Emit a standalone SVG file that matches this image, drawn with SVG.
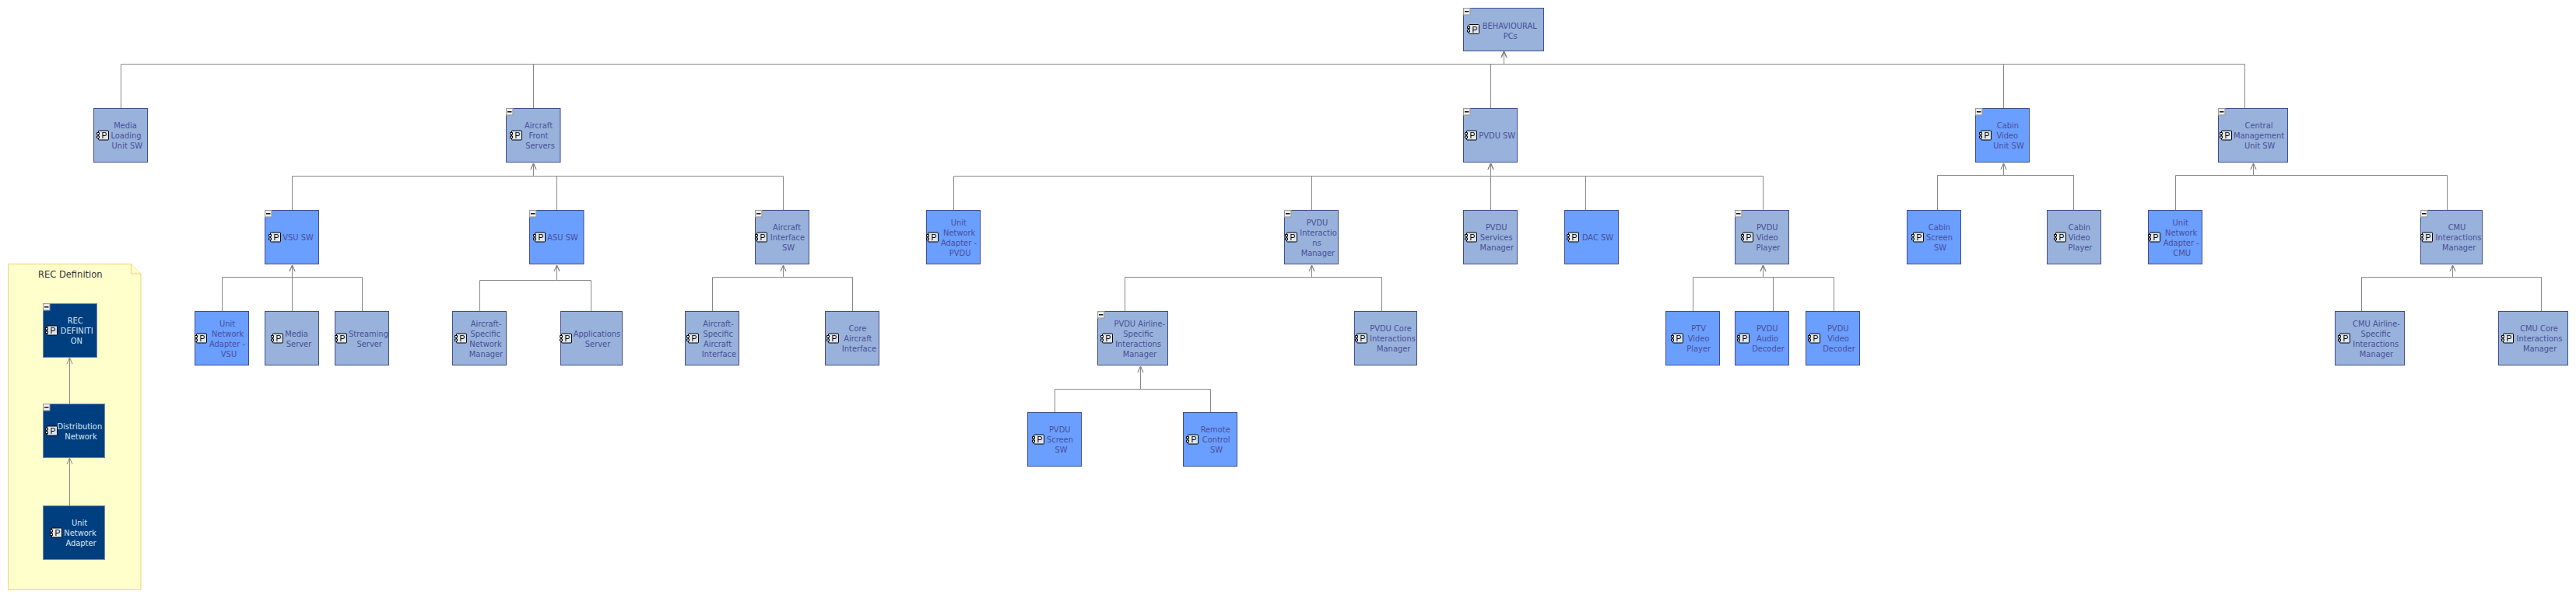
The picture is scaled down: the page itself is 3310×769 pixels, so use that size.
<svg xmlns="http://www.w3.org/2000/svg" width="3310" height="769" viewBox="0 0 3310 769">
<style>
text{font-family:"DejaVu Sans Condensed","DejaVu Sans",sans-serif;font-stretch:condensed;font-size:11px;text-anchor:middle;fill:#4a4f98}
.l rect.b{fill:#98b2db;stroke:#434c8c}
.h rect.b{fill:#6a9eff;stroke:#434c8c}
.d rect.b{fill:#003f7f;stroke:#6f86ad}
.d text{fill:#d8e4f2}
text.p{font-family:"Liberation Sans",Arial,sans-serif;font-size:10.5px;fill:#000}
.c{fill:none;stroke:#888;stroke-width:1;marker-end:url(#a)}
.note{fill:#ffc;stroke:#f0d080}
</style>
<defs>
<marker id="a" markerUnits="userSpaceOnUse" markerWidth="12" markerHeight="12" refX="11" refY="6" orient="auto" viewBox="0 0 12 12"><path d="M3 2.500L11 6L3 9.500" fill="none" stroke="#888"/></marker>
<g id="i"><rect x="-6.500" y="-6" width="13" height="12" rx="1" fill="#dfe6ee" stroke="#000"/><path d="M-8.500-3.500h3v2.500h-3zM-8.500 1h3v2.500h-3z" fill="#fff" stroke="#000"/></g>
<g id="m"><rect width="8.500" height="8.500" fill="#d8d8d8" stroke="#9a9a9a"/><rect x="1" y="1" width="6.500" height="6.500" fill="#f4f4f4"/><path d="M1.500 4.300h5.500" stroke="#000" stroke-width="1.400"/></g>
</defs>
<rect width="3310" height="769" fill="#fff"/>
<g id="rec-note"><path class="note" d="M10.500 339.500H168.500L181 352V758.500H10.500Z"/><path class="note" d="M168.500 339.500V352H181"/><text x="90.300" y="357" style="fill:#333;font-size:12.800px">REC Definition</text></g>
<g id="connectors">
<path class="c" d="M155.500 139V82.500H1932.500V66"/>
<path class="c" d="M685.500 139V82.500H1932.500V66"/>
<path class="c" d="M1915.500 139V82.500H1932.500V66"/>
<path class="c" d="M2574.500 139V82.500H1932.500V66"/>
<path class="c" d="M2884.500 139V82.500H1932.500V66"/>
<path class="c" d="M375.500 270V226.500H685.500V210"/>
<path class="c" d="M715.500 270V226.500H685.500V210"/>
<path class="c" d="M1006.500 270V226.500H685.500V210"/>
<path class="c" d="M1225.500 270V226.500H1915.500V210"/>
<path class="c" d="M1685.500 270V226.500H1915.500V210"/>
<path class="c" d="M1915.500 270V210"/>
<path class="c" d="M2037.500 270V226.500H1915.500V210"/>
<path class="c" d="M2265.500 270V226.500H1915.500V210"/>
<path class="c" d="M2489.500 270V225.500H2574.500V210"/>
<path class="c" d="M2664.500 270V225.500H2574.500V210"/>
<path class="c" d="M2795.500 270V225.500H2895.500V210"/>
<path class="c" d="M3144.500 270V225.500H2895.500V210"/>
<path class="c" d="M285.500 400V356.500H375.500V341"/>
<path class="c" d="M375.500 400V341"/>
<path class="c" d="M465.500 400V356.500H375.500V341"/>
<path class="c" d="M616.500 400V360.500H715.500V341"/>
<path class="c" d="M759.500 400V360.500H715.500V341"/>
<path class="c" d="M915.500 400V356.500H1006.500V341"/>
<path class="c" d="M1095.500 400V356.500H1006.500V341"/>
<path class="c" d="M1445.500 400V356.500H1685.500V341"/>
<path class="c" d="M1775.500 400V356.500H1685.500V341"/>
<path class="c" d="M2175.500 400V356.500H2265.500V341"/>
<path class="c" d="M2278.500 400V356.500H2265.500V341"/>
<path class="c" d="M2356.500 400V356.500H2265.500V341"/>
<path class="c" d="M3034.500 400V356.500H3151.500V341"/>
<path class="c" d="M3265.500 400V356.500H3151.500V341"/>
<path class="c" d="M1355.500 530V500.500H1465.500V471"/>
<path class="c" d="M1555.500 530V500.500H1465.500V471"/>
<path class="c" d="M89.500 519V460"/>
<path class="c" d="M89.500 650V589"/>
</g>
<g id="behavioural" class="l"><rect class="b" x="1880.500" y="10.500" width="103" height="55"/><use href="#m" x="1880.500" y="10.500"/><use href="#i" x="1894" y="37.500"/><text class="p" x="1895" y="41.500">P</text><text x="1939.800" y="36.500">BEHAVIOURAL<tspan x="1940.700" dy="13">PCs</tspan></text></g>
<g id="media-loading" class="l"><rect class="b" x="120.500" y="139.500" width="69" height="69"/><use href="#i" x="133" y="174"/><text class="p" x="134" y="178">P</text><text x="161" y="165">Media<tspan x="162" dy="13">Loading</tspan><tspan x="163.300" dy="13">Unit SW</tspan></text></g>
<g id="aircraft-front" class="l"><rect class="b" x="650.500" y="139.500" width="69.500" height="69"/><use href="#m" x="650.500" y="139.500"/><use href="#i" x="664" y="174"/><text class="p" x="665" y="178">P</text><text x="692" y="165">Aircraft<tspan x="692" dy="13">Front</tspan><tspan x="694" dy="13">Servers</tspan></text></g>
<g id="pvdu-sw" class="l"><rect class="b" x="1880.500" y="139.500" width="69" height="69"/><use href="#m" x="1880.500" y="139.500"/><use href="#i" x="1891" y="174"/><text class="p" x="1892" y="178">P</text><text x="1923.700" y="178">PVDU SW</text></g>
<g id="cabin-video-unit" class="h"><rect class="b" x="2538.500" y="139.500" width="69" height="69"/><use href="#m" x="2538.500" y="139.500"/><use href="#i" x="2552" y="174"/><text class="p" x="2553" y="178">P</text><text x="2580" y="165">Cabin<tspan x="2579.300" dy="13">Video</tspan><tspan x="2581" dy="13">Unit SW</tspan></text></g>
<g id="central-mgmt" class="l"><rect class="b" x="2850.500" y="139.500" width="89" height="69"/><use href="#m" x="2850.500" y="139.500"/><use href="#i" x="2861" y="174"/><text class="p" x="2862" y="178">P</text><text x="2902.500" y="165">Central<tspan x="2902.500" dy="13">Management</tspan><tspan x="2903.600" dy="13">Unit SW</tspan></text></g>
<g id="vsu-sw" class="h"><rect class="b" x="340.500" y="270.500" width="69" height="69"/><use href="#m" x="340.500" y="270.500"/><use href="#i" x="354" y="305"/><text class="p" x="355" y="309">P</text><text x="383" y="309">VSU SW</text></g>
<g id="asu-sw" class="h"><rect class="b" x="680.500" y="270.500" width="69.500" height="69"/><use href="#m" x="680.500" y="270.500"/><use href="#i" x="694" y="305"/><text class="p" x="695" y="309">P</text><text x="723" y="309">ASU SW</text></g>
<g id="aircraft-interface" class="l"><rect class="b" x="970.500" y="270.500" width="69" height="69"/><use href="#m" x="970.500" y="270.500"/><use href="#i" x="979" y="305"/><text class="p" x="980" y="309">P</text><text x="1011" y="296">Aircraft<tspan x="1012" dy="13">Interface</tspan><tspan x="1013" dy="13">SW</tspan></text></g>
<g id="una-pvdu" class="h"><rect class="b" x="1190.500" y="270.500" width="69" height="69"/><use href="#i" x="1199" y="305"/><text class="p" x="1200" y="309">P</text><text x="1231.800" y="290">Unit<tspan x="1232.700" dy="13">Network</tspan><tspan x="1232" dy="13">Adapter -</tspan><tspan x="1233.600" dy="13">PVDU</tspan></text></g>
<g id="pvdu-interactions" class="l"><rect class="b" x="1650.500" y="270.500" width="69" height="69"/><use href="#m" x="1650.500" y="270.500"/><use href="#i" x="1660" y="305"/><text class="p" x="1661" y="309">P</text><text x="1692.500" y="290">PVDU<tspan x="1694" dy="13">Interactio</tspan><tspan x="1692" dy="13">ns</tspan><tspan x="1693.400" dy="13">Manager</tspan></text></g>
<g id="pvdu-services" class="l"><rect class="b" x="1880.500" y="270.500" width="69" height="69"/><use href="#i" x="1891" y="305"/><text class="p" x="1892" y="309">P</text><text x="1922.700" y="296">PVDU<tspan x="1922.700" dy="13">Services</tspan><tspan x="1923.300" dy="13">Manager</tspan></text></g>
<g id="dac-sw" class="h"><rect class="b" x="2010.500" y="270.500" width="69" height="69"/><use href="#i" x="2022" y="305"/><text class="p" x="2023" y="309">P</text><text x="2053" y="309">DAC SW</text></g>
<g id="pvdu-video-player" class="l"><rect class="b" x="2229.500" y="270.500" width="69" height="69"/><use href="#m" x="2229.500" y="270.500"/><use href="#i" x="2246" y="305"/><text class="p" x="2247" y="309">P</text><text x="2270.700" y="296">PVDU<tspan x="2270.700" dy="13">Video</tspan><tspan x="2272" dy="13">Player</tspan></text></g>
<g id="cabin-screen" class="h"><rect class="b" x="2450.500" y="270.500" width="69" height="69"/><use href="#i" x="2465" y="305"/><text class="p" x="2466" y="309">P</text><text x="2492" y="296">Cabin<tspan x="2492" dy="13">Screen</tspan><tspan x="2493" dy="13">SW</tspan></text></g>
<g id="cabin-player" class="l"><rect class="b" x="2630.500" y="270.500" width="69" height="69"/><use href="#i" x="2648" y="305"/><text class="p" x="2649" y="309">P</text><text x="2672" y="296">Cabin<tspan x="2671.700" dy="13">Video</tspan><tspan x="2673" dy="13">Player</tspan></text></g>
<g id="una-cmu" class="h"><rect class="b" x="2760.500" y="270.500" width="69" height="69"/><use href="#i" x="2769" y="305"/><text class="p" x="2770" y="309">P</text><text x="2801.700" y="290">Unit<tspan x="2802.700" dy="13">Network</tspan><tspan x="2802.700" dy="13">Adapter -</tspan><tspan x="2803.700" dy="13">CMU</tspan></text></g>
<g id="cmu-interactions" class="l"><rect class="b" x="3110.500" y="270.500" width="79" height="69"/><use href="#m" x="3110.500" y="270.500"/><use href="#i" x="3119" y="305"/><text class="p" x="3120" y="309">P</text><text x="3157" y="296">CMU<tspan x="3159" dy="13">Interactions</tspan><tspan x="3159.600" dy="13">Manager</tspan></text></g>
<g id="una-vsu" class="h"><rect class="b" x="250.500" y="400.500" width="69" height="69"/><use href="#i" x="259" y="435"/><text class="p" x="260" y="439">P</text><text x="292" y="420">Unit<tspan x="292.600" dy="13">Network</tspan><tspan x="292" dy="13">Adapter -</tspan><tspan x="294" dy="13">VSU</tspan></text></g>
<g id="media-server" class="l"><rect class="b" x="340.500" y="400.500" width="69" height="69"/><use href="#i" x="357" y="435"/><text class="p" x="358" y="439">P</text><text x="381" y="433">Media<tspan x="384" dy="13">Server</tspan></text></g>
<g id="streaming-server" class="l"><rect class="b" x="430.500" y="400.500" width="69" height="69"/><use href="#i" x="439" y="435"/><text class="p" x="440" y="439">P</text><text x="473.500" y="433">Streaming<tspan x="474.700" dy="13">Server</tspan></text></g>
<g id="asnm" class="l"><rect class="b" x="581.500" y="400.500" width="69" height="69"/><use href="#i" x="593" y="435"/><text class="p" x="594" y="439">P</text><text x="624.500" y="420">Aircraft-<tspan x="623.700" dy="13">Specific</tspan><tspan x="624" dy="13">Network</tspan><tspan x="624.500" dy="13">Manager</tspan></text></g>
<g id="applications-server" class="l"><rect class="b" x="720.500" y="400.500" width="79" height="69"/><use href="#i" x="728" y="435"/><text class="p" x="729" y="439">P</text><text x="767" y="433">Applications<tspan x="768" dy="13">Server</tspan></text></g>
<g id="asai" class="l"><rect class="b" x="880.500" y="400.500" width="69" height="69"/><use href="#i" x="891" y="435"/><text class="p" x="892" y="439">P</text><text x="923" y="420">Aircraft-<tspan x="922.700" dy="13">Specific</tspan><tspan x="922" dy="13">Aircraft</tspan><tspan x="924" dy="13">Interface</tspan></text></g>
<g id="core-ai" class="l"><rect class="b" x="1060.500" y="400.500" width="69" height="69"/><use href="#i" x="1071" y="435"/><text class="p" x="1072" y="439">P</text><text x="1102" y="426">Core<tspan x="1102.300" dy="13">Aircraft</tspan><tspan x="1104" dy="13">Interface</tspan></text></g>
<g id="pvdu-airline" class="l"><rect class="b" x="1410.500" y="400.500" width="90" height="69"/><use href="#m" x="1410.500" y="400.500"/><use href="#i" x="1423" y="435"/><text class="p" x="1424" y="439">P</text><text x="1464.400" y="420">PVDU Airline-<tspan x="1462.600" dy="13">Specific</tspan><tspan x="1462.600" dy="13">Interactions</tspan><tspan x="1464.400" dy="13">Manager</tspan></text></g>
<g id="pvdu-core" class="l"><rect class="b" x="1740.500" y="400.500" width="80" height="69"/><use href="#i" x="1750" y="435"/><text class="p" x="1751" y="439">P</text><text x="1787" y="426">PVDU Core<tspan x="1789.400" dy="13">Interactions</tspan><tspan x="1790.700" dy="13">Manager</tspan></text></g>
<g id="ptv" class="h"><rect class="b" x="2140.500" y="400.500" width="69" height="69"/><use href="#i" x="2156" y="435"/><text class="p" x="2157" y="439">P</text><text x="2182.700" y="426">PTV<tspan x="2182.700" dy="13">Video</tspan><tspan x="2182.700" dy="13">Player</tspan></text></g>
<g id="pvdu-audio" class="h"><rect class="b" x="2229.500" y="400.500" width="69" height="69"/><use href="#i" x="2241" y="435"/><text class="p" x="2242" y="439">P</text><text x="2270.700" y="426">PVDU<tspan x="2271" dy="13">Audio</tspan><tspan x="2272" dy="13">Decoder</tspan></text></g>
<g id="pvdu-video-dec" class="h"><rect class="b" x="2320.500" y="400.500" width="69" height="69"/><use href="#i" x="2332" y="435"/><text class="p" x="2333" y="439">P</text><text x="2361.700" y="426">PVDU<tspan x="2362" dy="13">Video</tspan><tspan x="2363" dy="13">Decoder</tspan></text></g>
<g id="cmu-airline" class="l"><rect class="b" x="3000.500" y="400.500" width="89" height="69"/><use href="#i" x="3013" y="435"/><text class="p" x="3014" y="439">P</text><text x="3053.500" y="420">CMU Airline-<tspan x="3052.700" dy="13">Specific</tspan><tspan x="3052.700" dy="13">Interactions</tspan><tspan x="3053.500" dy="13">Manager</tspan></text></g>
<g id="cmu-core" class="l"><rect class="b" x="3210.500" y="400.500" width="89" height="69"/><use href="#i" x="3223" y="435"/><text class="p" x="3224" y="439">P</text><text x="3262.500" y="426">CMU Core<tspan x="3263" dy="13">Interactions</tspan><tspan x="3263.600" dy="13">Manager</tspan></text></g>
<g id="pvdu-screen" class="h"><rect class="b" x="1320.500" y="530.500" width="69" height="69"/><use href="#i" x="1335" y="565"/><text class="p" x="1336" y="569">P</text><text x="1361.700" y="556">PVDU<tspan x="1362" dy="13">Screen</tspan><tspan x="1363.500" dy="13">SW</tspan></text></g>
<g id="remote-control" class="h"><rect class="b" x="1520.500" y="530.500" width="69" height="69"/><use href="#i" x="1533" y="565"/><text class="p" x="1534" y="569">P</text><text x="1561.700" y="556">Remote<tspan x="1562.600" dy="13">Control</tspan><tspan x="1563" dy="13">SW</tspan></text></g>
<g id="rec-definition" class="d"><rect class="b" x="55.500" y="390.500" width="69" height="69"/><use href="#m" x="55.500" y="390.500"/><use href="#i" x="67" y="425"/><text class="p" x="68" y="429">P</text><text x="96.700" y="416">REC<tspan x="98.700" dy="13">DEFINITI</tspan><tspan x="98.300" dy="13">ON</tspan></text></g>
<g id="distribution-network" class="d"><rect class="b" x="55.500" y="519.500" width="79" height="69"/><use href="#m" x="55.500" y="519.500"/><use href="#i" x="67" y="554"/><text class="p" x="68" y="558">P</text><text x="102.300" y="552">Distribution<tspan x="104" dy="13">Network</tspan></text></g>
<g id="unit-network-adapter" class="d"><rect class="b" x="55.500" y="650.500" width="79" height="69"/><use href="#i" x="73" y="685"/><text class="p" x="74" y="689">P</text><text x="102" y="676">Unit<tspan x="103" dy="13">Network</tspan><tspan x="104" dy="13">Adapter</tspan></text></g>
</svg>
